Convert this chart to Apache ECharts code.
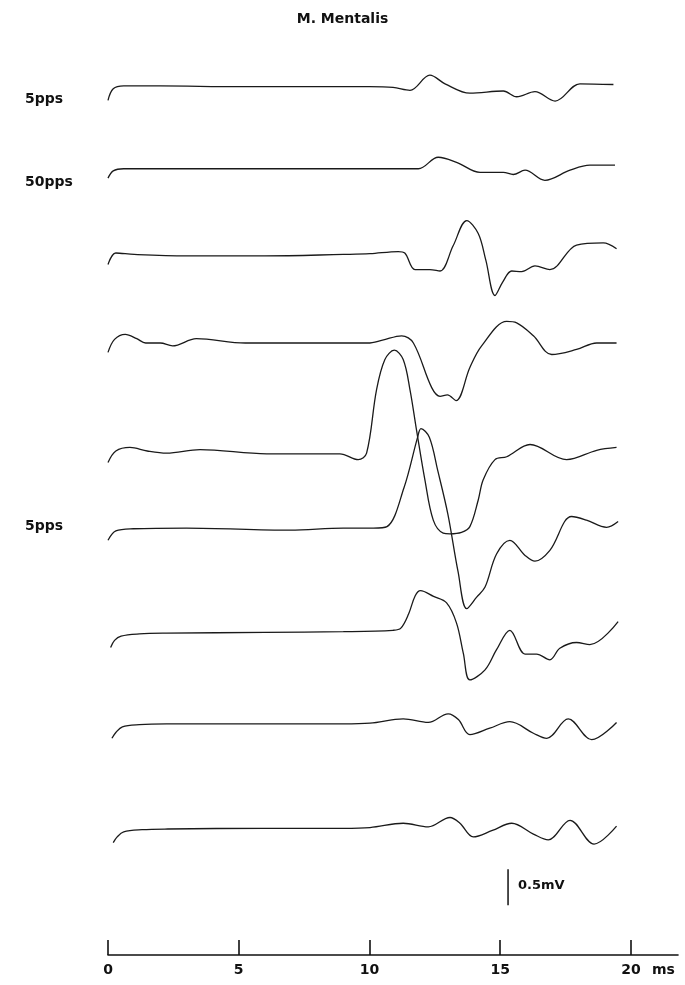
<!DOCTYPE html>
<html>
<head>
<meta charset="utf-8">
<title>M. Mentalis</title>
<script src="https://cdn.jsdelivr.net/npm/echarts@6.0.0/dist/echarts.min.js"></script>
<style>
  html, body { margin: 0; padding: 0; background: #fff; }
  #chart { width: 685px; height: 985px; }
</style>
</head>
<body>
<div id="chart"></div>
<script>
// time in ms, deflection in mV (positive = up), one pair of arrays per trace
var t1 = [0, 0.2, 0.6, 2, 5, 8, 10.0, 10.9, 11.55, 12.31, 12.89, 13.84, 15.12, 15.63, 16.33, 17.10, 18.05, 19.33];
var v1 = [-0.19, -0.03, 0.01, 0.01, 0, 0, 0, -0.01, -0.05, 0.16, 0.04, -0.09, -0.06, -0.14, -0.07, -0.2, 0.04, 0.03];

var t2 = [0, 0.2, 0.6, 2, 5, 8, 10, 11.87, 12.63, 13.33, 14.23, 15.12, 15.50, 15.95, 16.71, 17.67, 18.43, 19.39];
var v2 = [-0.13, -0.03, 0, 0, 0, 0, 0, 0, 0.16, 0.09, -0.05, -0.05, -0.08, -0.02, -0.16, -0.02, 0.05, 0.05];

var t3 = [0, 0.3, 1, 3, 6, 9, 10.02, 11.1, 11.35, 11.74, 12.31, 12.7, 13.2, 13.72, 14.16, 14.45, 14.8, 15.1, 15.44, 15.82, 16.33, 16.9, 17.92, 18.94, 19.45];
var v3 = [-0.14, 0.02, 0, -0.02, -0.02, 0, 0.01, 0.04, 0.02, -0.21, -0.21, -0.23, 0.12, 0.47, 0.29, -0.08, -0.57, -0.38, -0.23, -0.24, -0.16, -0.21, 0.13, 0.16, 0.08];

var t4 = [0, 0.25, 0.66, 1.1, 1.44, 2.0, 2.47, 3.38, 5.25, 8, 9.94, 10.5, 11.23, 11.68, 12.38, 12.70, 12.98, 13.31, 13.84, 14.29, 15.25, 15.63, 16.27, 16.97, 17.92, 18.69, 19.45];
var v4 = [-0.13, 0.05, 0.12, 0.06, 0, 0, -0.04, 0.06, 0, 0, 0, 0.04, 0.1, 0, -0.62, -0.74, -0.72, -0.8, -0.34, -0.04, 0.3, 0.28, 0.1, -0.16, -0.09, 0, 0];

var t5 = [0, 0.3, 0.84, 1.5, 2.24, 3.52, 6.07, 8.87, 9.57, 9.89, 10.27, 10.59, 10.95, 11.29, 11.55, 11.8, 12.12, 12.44, 12.82, 13.08, 13.52, 13.84, 14.16, 14.35, 14.8, 15.25, 16.14, 17.54, 18.69, 19.45];
var v5 = [-0.13, 0.03, 0.08, 0.03, 0, 0.05, -0.01, -0.01, -0.09, 0, 0.88, 1.3, 1.43, 1.3, 0.88, 0.32, -0.37, -0.93, -1.11, -1.12, -1.1, -1.02, -0.65, -0.37, -0.09, -0.05, 0.12, -0.09, 0.04, 0.08];

var t6 = [0, 0.3, 0.97, 3, 6.96, 9, 10.15, 10.67, 11.32, 11.84, 11.97, 12.29, 12.61, 13.0, 13.39, 13.72, 14.1, 14.42, 14.86, 15.37, 15.95, 16.33, 16.9, 17.73, 18.3, 19.07, 19.51];
var v6 = [-0.17, -0.04, -0.01, 0, -0.03, 0, 0, 0.02, 0.56, 1.26, 1.38, 1.26, 0.8, 0.19, -0.61, -1.12, -0.96, -0.82, -0.36, -0.17, -0.38, -0.46, -0.31, 0.16, 0.11, 0.01, 0.09];

var t7 = [0.1, 0.25, 0.5, 1.2, 2.24, 6, 9, 10.9, 11.2, 11.5, 11.75, 11.95, 12.45, 12.95, 13.33, 13.59, 13.84, 14.42, 14.86, 15.37, 15.95, 16.39, 16.9, 17.28, 17.92, 18.43, 19.51];
var v7 = [-0.22, -0.12, -0.06, -0.03, -0.02, -0.01, 0, 0.02, 0.05, 0.25, 0.5, 0.57, 0.49, 0.4, 0.12, -0.3, -0.67, -0.53, -0.25, 0.02, -0.31, -0.31, -0.39, -0.23, -0.15, -0.18, 0.14];

var t8 = [0.15, 0.3, 0.55, 1.2, 2.24, 6, 9, 10.02, 11.29, 12.25, 13.01, 13.4, 13.84, 14.6, 15.37, 16.27, 16.78, 17.6, 18.5, 19.45];
var v8 = [-0.2, -0.12, -0.04, -0.01, 0, 0, 0, 0.01, 0.07, 0.02, 0.14, 0.06, -0.15, -0.06, 0.03, -0.13, -0.2, 0.07, -0.22, 0.02];

var t9 = [0.2, 0.35, 0.6, 1.3, 2.28, 6, 9, 10.02, 11.29, 12.25, 13.08, 13.46, 13.97, 14.7, 15.44, 16.27, 16.84, 17.67, 18.59, 19.45];
var v9 = [-0.2, -0.12, -0.05, -0.02, -0.01, 0, 0, 0.01, 0.07, 0.02, 0.15, 0.07, -0.12, -0.03, 0.07, -0.08, -0.16, 0.11, -0.22, 0.03];

// baseline of each trace on the stacked mV axis (top trace first)
var baselines = [12.06, 10.92, 9.73, 8.5, 6.97, 5.93, 4.49, 3.21, 1.76];

var traceTimes = [t1, t2, t3, t4, t5, t6, t7, t8, t9];
var traceValues = [v1, v2, v3, v4, v5, v6, v7, v8, v9];

var xTicks = [0, 5, 10, 15, 20];
var scaleBarT = 15.3;
var scaleBarFrom = 0.69;
var scaleBarSize = 0.5; // mV

var chartDom = document.getElementById('chart');
var myChart = echarts.init(chartDom);

var series = [];
for (var i = 0; i < traceTimes.length; i++) {
	var pts = [];
	for (var k = 0; k < traceTimes[i].length; k++) {
		pts.push([traceTimes[i][k], baselines[i] + traceValues[i][k]]);
	}
	series.push({
		type: 'line',
		data: pts,
		smooth: 0.35,
		showSymbol: false,
		silent: true,
		lineStyle: { color: '#1a1a1a', width: 1.3 },
	});
}
// 0.5 mV calibration bar
series.push({
	type: 'line',
	data: [[scaleBarT, scaleBarFrom], [scaleBarT, scaleBarFrom + scaleBarSize]],
	showSymbol: false,
	silent: true,
	lineStyle: { color: '#111', width: 1.5 },
});

var labelFont = 'bold 14px "DejaVu Sans", sans-serif';
var smallFont = 'bold 13px "DejaVu Sans", sans-serif';

var option = {
	animation: false,
	backgroundColor: '#fff',
	grid: { left: 108, right: 7, top: 55, bottom: 30 },
	xAxis: {
		type: 'value',
		min: 0,
		max: 21.8,
		interval: 5,
		splitLine: { show: false },
		axisLine: { lineStyle: { color: '#111', width: 1.6 } },
		axisTick: {
			inside: true,
			length: 15,
			customValues: xTicks,
			lineStyle: { color: '#111', width: 1.6 },
		},
		axisLabel: {
			customValues: xTicks,
			margin: 8,
			color: '#111',
			fontSize: 14,
			fontWeight: 'bold',
			fontFamily: 'DejaVu Sans',
		},
	},
	yAxis: {
		type: 'value',
		min: 0,
		max: 12.5,
		show: false,
	},
	series: series,
	graphic: [
		{ type: 'text', left: 'center', top: 12, style: { text: 'M. Mentalis', font: labelFont, fill: '#111' } },
		{ type: 'text', left: 25, top: 92, style: { text: '5pps', font: labelFont, fill: '#111' } },
		{ type: 'text', left: 25, top: 175, style: { text: '50pps', font: labelFont, fill: '#111' } },
		{ type: 'text', left: 25, top: 519, style: { text: '5pps', font: labelFont, fill: '#111' } },
		{ type: 'text', left: 518, top: 879, style: { text: '0.5mV', font: smallFont, fill: '#111' } },
		{ type: 'text', left: 652, top: 963, style: { text: 'ms', font: labelFont, fill: '#111' } },
	],
};
myChart.setOption(option);
</script>
</body>
</html>
